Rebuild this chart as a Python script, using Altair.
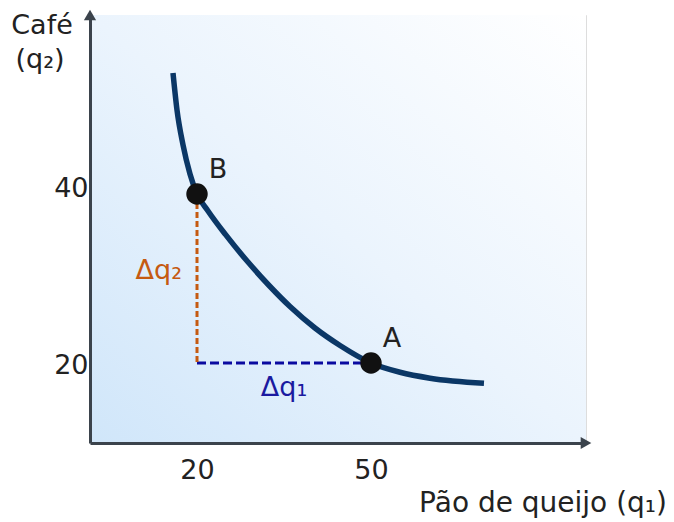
import altair as alt
import pandas as pd

# ---- data ----
curve_x = [15.86, 16.55, 17.59, 18.79, 20.0, 21.90, 24.83, 28.79, 32.59, 36.03,
           40.34, 44.66, 50.0, 55.0, 60.17, 69.48]
curve_y = [54.32, 49.94, 45.80, 42.37, 40.0, 37.99, 35.27, 31.94, 29.05, 26.68,
           24.14, 22.07, 20.0, 18.9, 18.2, 17.6]

point_names = ["B", "A"]
point_x = [20, 50]
point_y = [40, 20]

x_ticks = [20, 50]
y_ticks = [20, 40]

FONT = "DejaVu Sans"
TXT = "#222222"
AXC = "#3b434c"

curve = pd.DataFrame({"x": curve_x, "y": curve_y})
pts = pd.DataFrame({"name": point_names, "x": point_x, "y": point_y})
vline = pd.DataFrame({"x": [point_x[0]], "y": [point_y[0]], "y2": [point_y[1]]})
hline = pd.DataFrame({"x": [point_x[0]], "x2": [point_x[1]], "y": [point_y[1]]})
dq2 = pd.DataFrame({"x": [point_x[0]], "y": [(point_y[0] + point_y[1]) / 2], "t": ["Δq₂"]})
dq1 = pd.DataFrame({"x": [(point_x[0] + point_x[1]) / 2], "y": [point_y[1]], "t": ["Δq₁"]})
one = pd.DataFrame({"a": [0]})

xs = alt.Scale(domain=[1.55, 87.07], nice=False, zero=False)
ys = alt.Scale(domain=[10.53, 61.18], nice=False, zero=False)

ax_x = alt.Axis(values=x_ticks, title=None, grid=False, ticks=False, domainColor=AXC,
                domainWidth=3, labelFontSize=27, labelFont=FONT, labelColor=TXT,
                labelPadding=14, zindex=2)
ax_y = alt.Axis(values=y_ticks, title=None, grid=False, ticks=False, domainColor=AXC,
                domainWidth=3, labelFontSize=27, labelFont=FONT, labelColor=TXT,
                labelPadding=2, zindex=2,
                labelOffset={"condition": {"test": "datum.value === 40", "value": -5},
                             "value": 3})

X = alt.X("x:Q", scale=xs, axis=ax_x)
Y = alt.Y("y:Q", scale=ys, axis=ax_y)

W, H = 496, 428

bg = alt.Chart(one).mark_rect(
    fill=alt.LinearGradient(
        gradient="linear",
        stops=[alt.GradientStop(offset=0, color="#d0e6fa"),
               alt.GradientStop(offset=0.5, color="#ebf4fd"),
               alt.GradientStop(offset=1, color="#ffffff")],
        x1=0, y1=1, x2=1, y2=0),
    strokeWidth=0,
).encode(x=alt.value(0), x2=alt.value(W), y=alt.value(0), y2=alt.value(H))

line = alt.Chart(curve).mark_line(color="#0b3766", strokeWidth=5.5, interpolate="monotone").encode(x=X, y=Y)

v = alt.Chart(vline).mark_rule(color="#c55a11", strokeWidth=3, strokeDash=[6, 3]).encode(
    x=X, y=Y, y2="y2:Q")
h = alt.Chart(hline).mark_rule(color="#0a0aa0", strokeWidth=3, strokeDash=[9, 4]).encode(
    x=X, x2="x2:Q", y=Y)

dots = alt.Chart(pts).mark_circle(size=460, color="#111111", opacity=1).encode(x=X, y=Y)
names = alt.Chart(pts).mark_text(fontSize=27, font=FONT, color=TXT, dx=21, dy=-24).encode(
    x=X, y=Y, text="name:N")

t2 = alt.Chart(dq2).mark_text(fontSize=27, font=FONT, color="#c55a11", align="right",
                               dx=-15, dy=-7).encode(x=X, y=Y, text="t:N")
t1 = alt.Chart(dq1).mark_text(fontSize=27, font=FONT, color="#1a1aa0", dy=25).encode(
    x=X, y=Y, text="t:N")

# axis arrowheads at the ends of the axes
arrow_x = alt.Chart(one).mark_point(shape="triangle-right", filled=True, size=150, color=AXC,
                                    opacity=1).encode(x=alt.value(W), y=alt.value(H))
arrow_y = alt.Chart(one).mark_point(shape="triangle-up", filled=True, size=150, color=AXC,
                                    opacity=1).encode(x=alt.value(0), y=alt.value(0))

ytitle1 = alt.Chart(one).mark_text(text="Café", fontSize=27, font=FONT, color=TXT).encode(
    x=alt.value(-48), y=alt.value(11))
ytitle2 = alt.Chart(one).mark_text(text="(q₂)", fontSize=27, font=FONT, color=TXT).encode(
    x=alt.value(-50), y=alt.value(45))
xtitle = alt.Chart(one).mark_text(text="Pão de queijo (q₁)", fontSize=28, font=FONT, color=TXT,
                                  align="right").encode(x=alt.value(577), y=alt.value(489))

chart = alt.layer(bg, h, v, line, dots, names, t2, t1, arrow_x, arrow_y,
                  ytitle1, ytitle2, xtitle).properties(
    width=W, height=H,
    padding={"left": 82, "top": 7, "right": 80, "bottom": 76},
    autosize=alt.AutoSizeParams(type="none"),
).configure_view(stroke=None).configure(background="white")

chart.save("out.html", embed_options={"renderer": "svg", "actions": False})
